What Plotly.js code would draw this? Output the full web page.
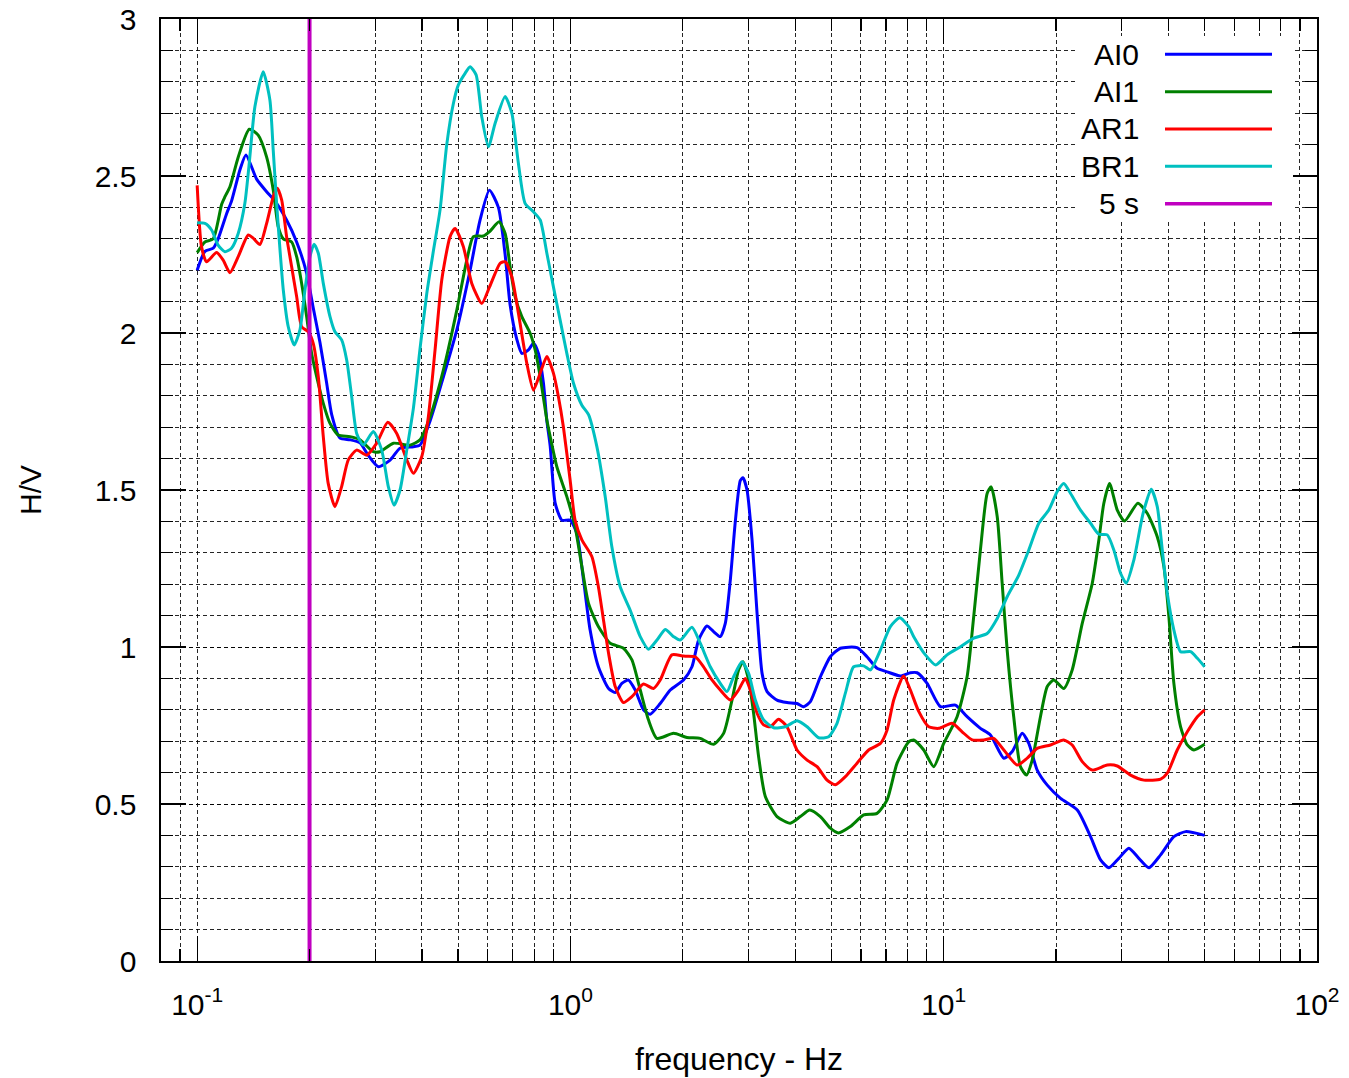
<!DOCTYPE html>
<html>
<head>
<meta charset="utf-8">
<script src="https://cdn.plot.ly/plotly-3.0.1.min.js"></script>
<style>
  html, body { margin: 0; padding: 0; background: #fff; }
  #chart { width: 1349px; height: 1078px; }
</style>
</head>
<body>
<div id="chart"></div>
<script>
// ---------------- data ----------------
const seriesNames = ['AI0', 'AI1', 'AR1', 'BR1', '5 s'];

const freqAI0 = [0.100,0.1049,0.1104,0.1138,0.1199,0.1236,0.1302,0.1351,0.1443,0.1535,
  0.1616,0.1736,0.1847,0.1965,0.2046,0.2133,0.2223,0.2293,0.2414,0.2567,
  0.2731,0.2873,0.3057,0.3287,0.3495,0.3795,0.3954,0.4207,0.4566,0.4961,
  0.5384,0.5727,0.6066,0.6412,0.6683,0.6892,0.7183,0.7408,0.7717,0.7959,
  0.8209,0.8466,0.8646,0.8825,0.9101,0.9483,0.998,1.040,1.084,1.129,
  1.188,1.265,1.318,1.373,1.430,1.491,1.569,1.635,1.740,1.851,
  2.009,2.116,2.204,2.321,2.418,2.520,2.599,2.681,2.765,2.851,
  2.899,2.972,3.066,3.162,3.261,3.363,3.576,3.804,4.046,4.215,
  4.393,4.672,4.969,5.285,5.858,6.231,6.627,7.052,7.655,8.141,
  8.486,9.027,9.799,10.75,11.55,12.54,13.34,14.49,15.26,16.23,
  16.90,17.80,18.94,20.56,22.79,24.74,26.31,27.70,29.45,31.33,
  33.32,35.44,38.11,41.36,44.46,50.0];
const hvAI0 = [2.20,2.26,2.27,2.30,2.38,2.42,2.52,2.567,2.49,2.45,
  2.42,2.36,2.29,2.19,2.08,1.97,1.84,1.74,1.665,1.66,
  1.65,1.61,1.574,1.595,1.633,1.638,1.643,1.72,1.86,2.01,
  2.20,2.36,2.455,2.40,2.25,2.09,1.98,1.935,1.946,1.967,
  1.935,1.84,1.72,1.64,1.458,1.404,1.404,1.362,1.213,1.054,
  0.937,0.868,0.855,0.884,0.895,0.863,0.80,0.786,0.82,0.863,
  0.895,0.937,1.022,1.067,1.049,1.033,1.075,1.213,1.40,1.53,
  1.539,1.50,1.34,1.107,0.916,0.858,0.831,0.823,0.82,0.81,
  0.826,0.905,0.969,0.996,0.998,0.969,0.932,0.921,0.908,0.918,
  0.918,0.884,0.81,0.815,0.778,0.741,0.72,0.646,0.667,0.725,
  0.693,0.608,0.56,0.518,0.481,0.396,0.322,0.297,0.327,0.359,
  0.327,0.297,0.338,0.396,0.412,0.40];

const freqAI1 = [0.100,0.1049,0.1104,0.1163,0.1187,0.1224,0.1288,0.1379,0.1457,0.1535,
  0.1599,0.1649,0.1701,0.1791,0.1847,0.1905,0.1965,0.2026,0.2090,0.2177,
  0.2269,0.2388,0.2567,0.2731,0.2964,0.3089,0.3355,0.3717,0.3954,0.4207,
  0.4566,0.4961,0.5277,0.5495,0.5845,0.6072,0.6439,0.6683,0.6892,0.7107,
  0.7408,0.7798,0.8044,0.8296,0.8646,0.8825,0.9195,0.978,1.029,1.073,
  1.118,1.188,1.278,1.387,1.461,1.538,1.618,1.705,1.889,2.052,
  2.227,2.418,2.572,2.709,2.821,2.899,3.001,3.095,3.192,3.327,
  3.576,3.882,4.129,4.375,4.672,4.969,5.220,5.623,6.103,6.627,
  7.052,7.499,8.057,8.312,8.840,9.402,10.0,10.86,11.55,12.03,
  12.54,13.07,13.40,13.91,14.34,14.79,15.40,16.05,16.66,17.26,
  18.16,18.94,19.72,20.97,22.09,23.50,25.00,26.04,26.85,27.81,
  29.17,30.51,33.12,35.09,37.33,38.89,40.11,41.36,43.11,44.93,
  46.80,50.0];
const hvAI1 = [2.256,2.29,2.30,2.41,2.434,2.466,2.56,2.649,2.63,2.56,
  2.455,2.338,2.30,2.29,2.243,2.158,2.052,1.935,1.861,1.776,
  1.712,1.675,1.67,1.66,1.622,1.622,1.649,1.643,1.66,1.733,
  1.882,2.073,2.232,2.307,2.309,2.323,2.354,2.317,2.211,2.116,
  2.052,1.999,1.946,1.861,1.723,1.67,1.574,1.479,1.383,1.256,
  1.139,1.065,1.012,0.996,0.959,0.863,0.768,0.709,0.725,0.712,
  0.709,0.69,0.725,0.831,0.927,0.953,0.895,0.789,0.651,0.524,
  0.46,0.439,0.46,0.481,0.46,0.423,0.408,0.428,0.465,0.47,
  0.513,0.63,0.698,0.704,0.672,0.619,0.693,0.778,0.905,1.096,
  1.309,1.489,1.51,1.415,1.203,0.99,0.778,0.619,0.592,0.64,
  0.778,0.874,0.895,0.868,0.927,1.075,1.203,1.341,1.458,1.521,
  1.436,1.401,1.458,1.426,1.351,1.256,1.096,0.884,0.746,0.688,
  0.672,0.69];

const freqAR1 = [0.100,0.1027,0.106,0.1127,0.1174,0.1224,0.1288,0.137,0.1413,0.1473,
  0.1535,0.1599,0.1639,0.1684,0.1736,0.1791,0.1847,0.1905,0.1984,0.2046,
  0.2111,0.2177,0.2244,0.2339,0.2438,0.2540,0.2675,0.2845,0.3027,0.3240,
  0.3425,0.3643,0.3795,0.3995,0.4162,0.4338,0.4521,0.4759,0.4908,0.5166,
  0.5441,0.5786,0.6072,0.6479,0.6683,0.6965,0.7254,0.7639,0.7959,0.8296,
  0.8646,0.9003,0.9285,0.9576,0.998,1.029,1.073,1.141,1.188,1.226,
  1.265,1.318,1.387,1.461,1.569,1.669,1.740,1.870,2.009,2.159,
  2.273,2.394,2.520,2.681,2.821,2.940,3.033,3.162,3.292,3.430,
  3.611,3.804,4.046,4.305,4.578,4.869,5.124,5.451,5.858,6.293,
  6.766,7.052,7.345,7.812,8.141,8.570,9.117,9.696,10.53,11.20,
  11.92,12.80,13.61,14.49,15.74,16.74,17.80,19.32,20.97,22.09,
  23.50,25.00,27.42,29.17,31.66,34.38,38.11,39.71,42.23,44.93,
  47.81,50.0];
const hvAR1 = [2.47,2.275,2.227,2.256,2.232,2.192,2.243,2.312,2.302,2.282,
  2.349,2.434,2.461,2.424,2.307,2.211,2.116,2.02,2.004,1.967,
  1.861,1.67,1.521,1.447,1.511,1.596,1.627,1.611,1.649,1.716,
  1.68,1.596,1.553,1.606,1.733,1.946,2.169,2.307,2.333,2.275,
  2.158,2.094,2.147,2.222,2.227,2.179,2.063,1.904,1.818,1.872,
  1.925,1.872,1.797,1.70,1.532,1.404,1.341,1.288,1.192,1.086,
  0.98,0.874,0.823,0.842,0.882,0.868,0.895,0.975,0.971,0.969,
  0.937,0.895,0.863,0.831,0.863,0.90,0.863,0.789,0.752,0.746,
  0.77,0.746,0.672,0.64,0.619,0.576,0.561,0.587,0.63,0.672,
  0.693,0.736,0.831,0.908,0.863,0.795,0.746,0.741,0.757,0.730,
  0.704,0.704,0.709,0.672,0.624,0.646,0.677,0.688,0.704,0.688,
  0.635,0.608,0.624,0.621,0.592,0.576,0.579,0.598,0.672,0.730,
  0.778,0.80];

const freqBR1 = [0.100,0.1049,0.1093,0.1138,0.1187,0.1236,0.1288,0.1342,0.1376,0.1428,
  0.1503,0.1566,0.1599,0.1633,0.1667,0.1701,0.1754,0.182,0.1885,0.1944,
  0.2005,0.2056,0.2111,0.2177,0.2269,0.2339,0.2438,0.2515,0.2594,0.2675,
  0.2786,0.2964,0.3122,0.3251,0.3367,0.3495,0.3643,0.3795,0.3954,0.4121,
  0.4292,0.4474,0.4662,0.4857,0.5009,0.5221,0.5384,0.5588,0.5786,0.6029,
  0.6284,0.6683,0.6965,0.7254,0.7560,0.7959,0.8296,0.8646,0.9003,0.9384,
  0.978,1.019,1.073,1.118,1.177,1.239,1.291,1.359,1.445,1.538,
  1.618,1.705,1.795,1.889,1.968,2.116,2.227,2.369,2.520,2.627,
  2.735,2.880,3.001,3.128,3.292,3.502,3.763,4.046,4.305,4.623,
  4.918,5.178,5.451,5.738,6.103,6.364,6.766,7.195,7.621,8.057,
  8.312,8.932,9.520,10.21,11.09,12.03,13.07,13.91,14.79,15.89,
  16.90,17.98,19.12,20.14,20.97,21.87,23.25,24.74,26.04,27.42,
  28.56,29.77,30.83,32.31,34.21,35.97,37.33,38.50,39.71,41.36,
  43.11,45.86,47.81,50.0];
const hvBR1 = [2.351,2.349,2.328,2.28,2.259,2.27,2.317,2.413,2.53,2.721,
  2.832,2.742,2.58,2.41,2.264,2.137,2.02,1.962,2.01,2.137,
  2.243,2.283,2.254,2.158,2.052,2.004,1.978,1.914,1.797,1.68,
  1.643,1.686,1.627,1.511,1.452,1.50,1.627,1.76,1.95,2.125,
  2.26,2.392,2.6,2.731,2.79,2.827,2.848,2.822,2.689,2.593,
  2.668,2.753,2.70,2.54,2.413,2.386,2.36,2.254,2.147,2.041,
  1.935,1.84,1.77,1.74,1.638,1.479,1.319,1.192,1.118,1.033,
  0.993,1.022,1.056,1.033,1.022,1.063,1.012,0.937,0.884,0.858,
  0.905,0.953,0.916,0.831,0.768,0.743,0.746,0.765,0.746,0.711,
  0.714,0.757,0.853,0.937,0.94,0.927,0.99,1.065,1.093,1.065,
  1.033,0.975,0.943,0.975,1.001,1.028,1.043,1.091,1.16,1.229,
  1.309,1.394,1.436,1.495,1.521,1.489,1.436,1.394,1.359,1.357,
  1.309,1.235,1.203,1.277,1.426,1.502,1.447,1.309,1.171,1.054,
  0.985,0.985,0.964,0.937];

// vertical marker: 5 s period = 0.2 Hz
const markerFreq = [0.2, 0.2];
const markerHV = [0, 3];

// tick labels
const xTickVals = [0.1, 1, 10, 100];
const xTickText = ['10<sup>-1</sup>', '10<sup>0</sup>', '10<sup>1</sup>', '10<sup>2</sup>'];
const yTickVals = [0, 0.5, 1, 1.5, 2, 2.5, 3];
const yTickText = ['0', '0.5', '1', '1.5', '2', '2.5', '3'];

// ---------------- styling ----------------
const colors = ['#0000ff', '#008000', '#ff0000', '#00c0c0', '#c000c0'];
const FONT = 'Liberation Sans, Arial, Helvetica, sans-serif';
const W = 1349, H = 1078;
const M = {l: 161, r: 32, t: 19, b: 117};
const plotW = W - M.l - M.r, plotH = H - M.t - M.b;
const pxX = px => (px - M.l) / plotW;
const pxY = py => (H - M.b - py) / plotH;

const xs = [freqAI0, freqAI1, freqAR1, freqBR1];
const ys = [hvAI0, hvAI1, hvAR1, hvBR1];

const traces = xs.map((x, i) => ({
  type: 'scatter', mode: 'lines', x: x, y: ys[i], name: seriesNames[i],
  line: {color: colors[i], width: 3, shape: 'spline', smoothing: 0.6},
  hoverinfo: 'x+y+name'
}));
traces.push({
  type: 'scatter', mode: 'lines', x: markerFreq, y: markerHV, name: seriesNames[4],
  line: {color: colors[4], width: 4}
});

// minor x ticks: 2..9 in each decade
const xMinor = [];
for (let e = -2; e <= 1; e++) {
  for (let d = 2; d <= 9; d++) {
    const v = d * Math.pow(10, e);
    if (v >= 0.08 - 1e-9 && v <= 100) xMinor.push(+v.toPrecision(3));
  }
}

const gridDash = '4px,3px';
const gridColor = 'rgba(0,0,0,0.85)';

// legend: white opaque box (no border), text on the left, line sample on the right
const legendRowsPx = [54.3, 91.7, 129, 166.3, 203.7];
const annotations = [];
const shapes = [{
  type: 'rect', xref: 'paper', yref: 'paper', layer: 'above',
  x0: pxX(1077), x1: pxX(1293), y0: pxY(219), y1: pxY(36),
  fillcolor: '#ffffff', line: {width: 0}
}];
seriesNames.forEach((name, i) => {
  annotations.push({
    xref: 'paper', yref: 'paper', x: pxX(1141), y: pxY(legendRowsPx[i]),
    xanchor: 'right', yanchor: 'middle', text: name, showarrow: false,
    font: {family: FONT, size: 30, color: '#000'}
  });
  shapes.push({
    type: 'line', xref: 'paper', yref: 'paper', layer: 'above',
    x0: pxX(1165), x1: pxX(1272), y0: pxY(legendRowsPx[i]), y1: pxY(legendRowsPx[i]),
    line: {color: colors[i], width: i === 4 ? 3.5 : 3}
  });
});

const layout = {
  width: W, height: H,
  margin: M,
  paper_bgcolor: '#fff', plot_bgcolor: '#fff',
  showlegend: false,
  font: {family: FONT, size: 30, color: '#000'},
  xaxis: {
    type: 'log', range: [Math.log10(0.08), 2], autorange: false,
    tickmode: 'array', tickvals: xTickVals, ticktext: xTickText,
    ticks: 'inside', ticklen: 25, tickwidth: 1.2, tickcolor: '#000',
    showline: true, linecolor: '#000', linewidth: 1.6, mirror: 'allticks',
    showgrid: true, gridcolor: gridColor, gridwidth: 1, griddash: gridDash,
    zeroline: false,
    tickfont: {family: FONT, size: 30, color: '#000'},
    ticklabelstandoff: 16,
    minor: {
      tickmode: 'array', tickvals: xMinor,
      ticks: 'inside', ticklen: 12, tickwidth: 1.2, tickcolor: '#000',
      showgrid: true, gridcolor: gridColor, gridwidth: 1, griddash: gridDash
    },
    title: {text: 'frequency - Hz', font: {family: FONT, size: 32, color: '#000'}, standoff: 28}
  },
  yaxis: {
    range: [0, 3], autorange: false,
    tickmode: 'array', tickvals: yTickVals, ticktext: yTickText,
    ticks: 'inside', ticklen: 25, tickwidth: 1.2, tickcolor: '#000',
    showline: true, linecolor: '#000', linewidth: 1.6, mirror: 'allticks',
    showgrid: true, gridcolor: gridColor, gridwidth: 1, griddash: gridDash,
    zeroline: false,
    tickfont: {family: FONT, size: 30, color: '#000'},
    ticklabelstandoff: 17,
    minor: {
      dtick: 0.1, tick0: 0,
      ticks: 'inside', ticklen: 12, tickwidth: 1.2, tickcolor: '#000',
      showgrid: true, gridcolor: gridColor, gridwidth: 1, griddash: gridDash
    },
    title: {text: 'H/V', font: {family: FONT, size: 30, color: '#000'}, standoff: 44}
  },
  annotations: annotations,
  shapes: shapes
};

Plotly.newPlot('chart', traces, layout, {displayModeBar: false, staticPlot: true});
</script>
</body>
</html>
